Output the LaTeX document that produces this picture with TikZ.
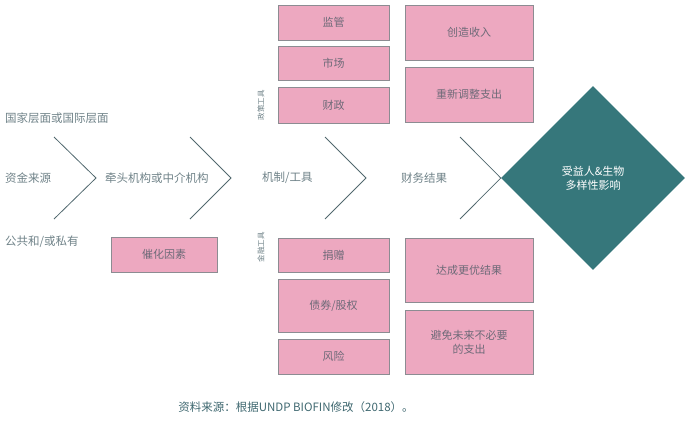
\documentclass[tikz,border=0pt]{standalone}
\usepackage{fontspec}
\setmainfont{Noto Sans CJK SC}
\usetikzlibrary{shapes.geometric}
\definecolor{pinkfill}{HTML}{EDA8C0}
\definecolor{boxline}{HTML}{8C8C92}
\definecolor{boxtext}{HTML}{6E6A78}
\definecolor{tealfill}{HTML}{36777B}
\definecolor{labeltext}{HTML}{6F8288}
\definecolor{chev}{HTML}{51686E}
\definecolor{captext}{HTML}{3F6870}
\begin{document}
\begin{tikzpicture}[x=1pt,y=-1pt,
 pbox/.style={draw=boxline, line width=0.8pt, fill=pinkfill, text=boxtext, font=\fontsize{11}{14}\selectfont, inner sep=0pt, align=center},
 lbl/.style={text=labeltext, font=\fontsize{11.5}{13}\selectfont, inner sep=0pt},
 chevline/.style={draw=chev, line width=0.8pt},
 side/.style={text=labeltext, font=\fontsize{7.5}{8}\selectfont, rotate=90, inner sep=0pt}]
\useasboundingbox (0,0) rectangle (700,423);
% policy tools
\node[pbox, minimum width=111pt, minimum height=35pt] (jg) at (333.5,22.5) {监管};
\node[pbox, minimum width=111pt, minimum height=34pt] (sc) at (333.5,63) {市场};
\node[pbox, minimum width=111pt, minimum height=36pt] (cz) at (333.5,105) {财政};
\node[side] (zcgj) at (261,105) {政策工具};
% financial tools
\node[pbox, minimum width=111pt, minimum height=34pt] (jz) at (333.5,255) {捐赠};
\node[pbox, minimum width=111pt, minimum height=53pt] (zq) at (333.5,305.5) {债券/股权};
\node[pbox, minimum width=111pt, minimum height=35pt] (fx) at (333.5,356.5) {风险};
\node[side] (jrgj) at (261,247) {金融工具};
% outcomes
\node[pbox, minimum width=128pt, minimum height=55pt] (czsr) at (469,32.5) {创造收入};
\node[pbox, minimum width=128pt, minimum height=55pt] (cxtz) at (469,94.5) {重新调整支出};
\node[pbox, minimum width=128pt, minimum height=64pt] (dc) at (469,270) {达成更优结果};
\node[pbox, minimum width=128pt, minimum height=64pt] (bm) at (469,342) {避免未来不必要\\的支出};
% catalyst
\node[pbox, minimum width=106pt, minimum height=35pt] (chys) at (164,254.5) {催化因素};
% diamond
\node[diamond, aspect=1, fill=tealfill, minimum width=184pt, minimum height=184pt, inner sep=0pt, text=white, align=center, font=\fontsize{11}{14}\selectfont] (yx) at (593,178) {受益人\&生物\\多样性影响};
% labels
\node[lbl, anchor=west] (gj) at (5,118) {国家层面或国际层面};
\node[lbl, anchor=west] (zj) at (5,178) {资金来源};
\node[lbl, anchor=west] (gg) at (5,242) {公共和/或私有};
\node[lbl, anchor=west] (qt) at (105,178) {牵头机构或中介机构};
\node[lbl, anchor=west] (jz2) at (262,178) {机制/工具};
\node[lbl, anchor=west] (cw) at (401,178) {财务结果};
% chevrons
\coordinate (a1) at (54,137); \coordinate (a2) at (96,178); \coordinate (a3) at (54,219);
\coordinate (b1) at (190,137); \coordinate (b2) at (231,178); \coordinate (b3) at (190,219);
\coordinate (c1) at (325,137); \coordinate (c2) at (366,178); \coordinate (c3) at (325,219);
\coordinate (d1) at (460,137); \coordinate (d3) at (460,219);
\draw[chevline] (a1) -- (a2) -- (a3);
\draw[chevline] (b1) -- (b2) -- (b3);
\draw[chevline] (c1) -- (c2) -- (c3);
\draw[chevline] (d1) -- (yx.west) -- (d3);
% caption
\node[text=captext, font=\fontsize{11.5}{13}\selectfont, inner sep=0pt] (cap) at (296,407) {资料来源：根据UNDP BIOFIN修改（2018）。};
\end{tikzpicture}
\end{document}
